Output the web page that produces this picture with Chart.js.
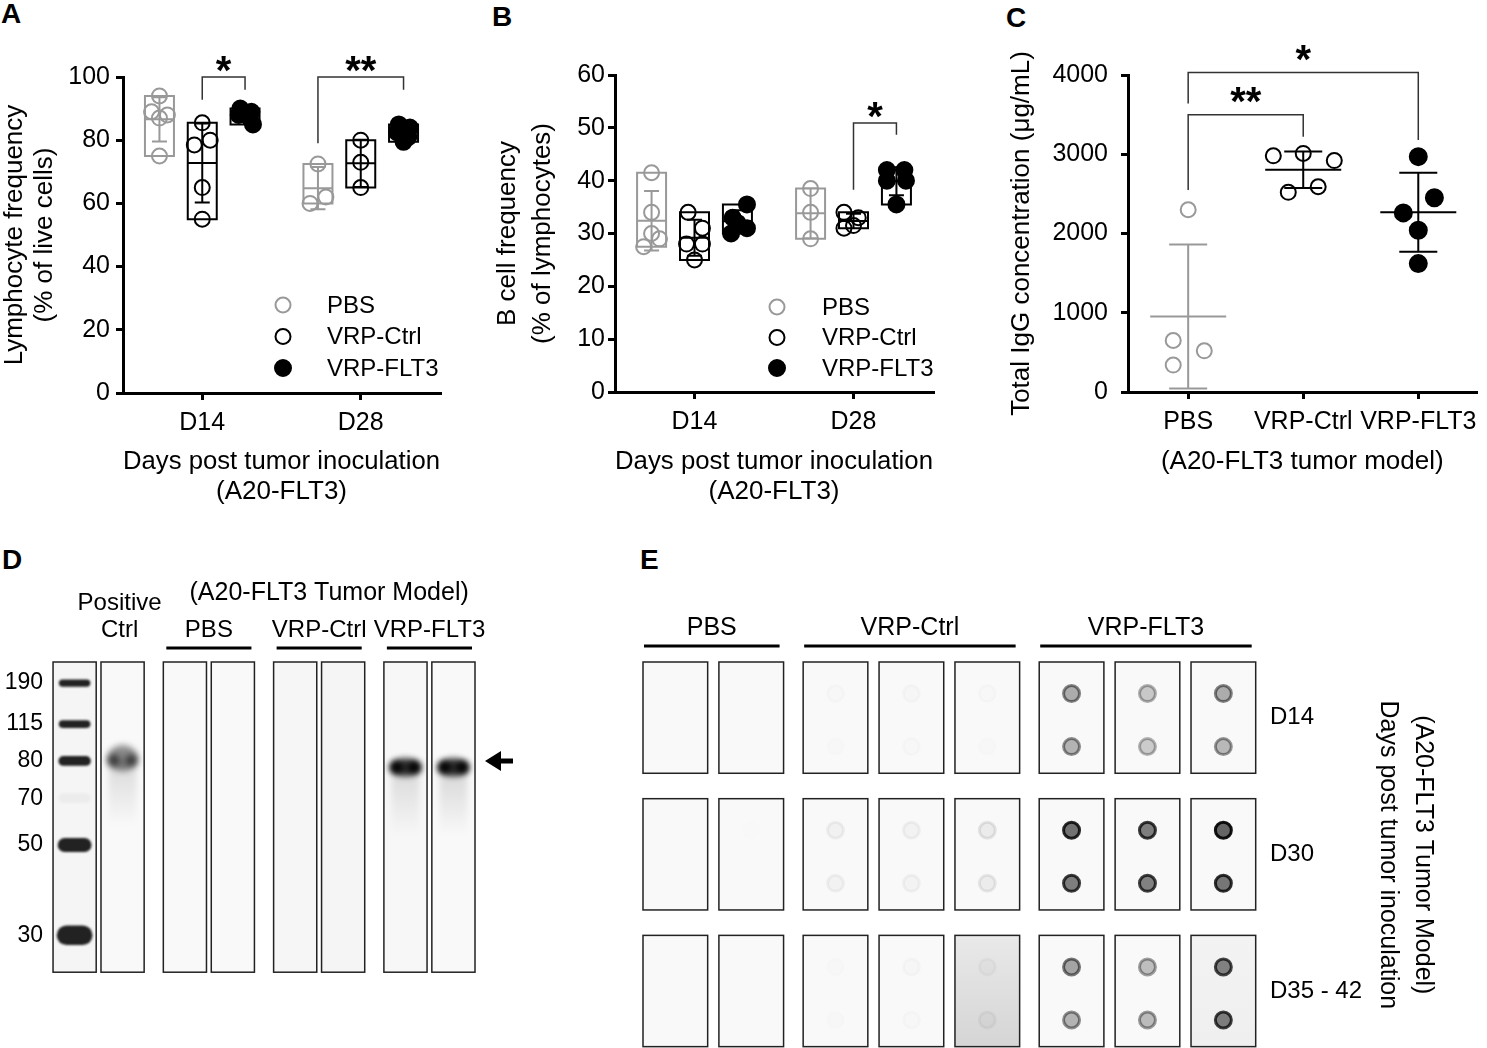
<!DOCTYPE html>
<html>
<head>
<meta charset="utf-8">
<title>A20-FLT3 tumor model</title>
<script src="https://cdn.jsdelivr.net/npm/chart.js@4.4.1/dist/chart.umd.min.js"></script>
<style>
  html, body { margin: 0; padding: 0; background: #fff; }
  body { position: relative; width: 1487px; height: 1048px; overflow: hidden;
         font-family: Arial, "Liberation Sans", sans-serif; }
  .panel { position: absolute; }
  .tag { position: absolute; font-weight: bold; font-size: 28px; line-height: 28px; }
</style>
</head>
<body>
<div class="tag" style="left:1px;top:0px">A</div>
<div class="tag" style="left:492px;top:3px">B</div>
<div class="tag" style="left:1006px;top:4px">C</div>
<div class="tag" style="left:2px;top:546px">D</div>
<div class="tag" style="left:640px;top:546px">E</div>

<div class="panel" style="left:0;top:0;width:490px;height:510px"><canvas id="chartA"></canvas></div>
<div class="panel" style="left:490px;top:0;width:490px;height:510px"><canvas id="chartB"></canvas></div>
<div class="panel" style="left:990px;top:0;width:497px;height:510px"><canvas id="chartC"></canvas></div>
<div class="panel" style="left:0;top:540px;width:560px;height:457px"><canvas id="chartD"></canvas></div>
<div class="panel" style="left:630px;top:600px;width:857px;height:476px"><canvas id="chartE"></canvas></div>

<script>
// ---------- data ----------
const days = ['D14', 'D28'];
const groupNames = ['PBS', 'VRP-Ctrl', 'VRP-FLT3'];

// A: lymphocyte frequency (% of live cells), one list per day
const lymphPBS  = [[94, 89, 88, 87, 75], [72.5, 62, 60]];
const lymphCtrl = [[85.5, 80, 78.5, 65, 55], [80, 73, 65]];
const lymphFLT3 = [[90, 89, 88, 87, 85], [85, 84, 82.5, 81, 79.5]];
const yTicksA = [0, 20, 40, 60, 80, 100];

// B: B cell frequency (% of lymphocytes)
const bcellPBS  = [[41.5, 34, 30, 29, 27.5], [38.5, 34, 29]];
const bcellCtrl = [[34, 31, 28, 28, 25], [34, 33, 31.5, 31]];
const bcellFLT3 = [[35.5, 33, 32, 31, 30], [42, 42, 40, 40, 35.5]];
const yTicksB = [0, 10, 20, 30, 40, 50, 60];

// C: total IgG concentration (ug/mL)
const igPBS  = [2300, 650, 520, 340];
const igCtrl = [2980, 3010, 2920, 2520, 2590];
const igFLT3 = [2970, 2450, 2260, 2040, 1620];
const yTicksC = [0, 1000, 2000, 3000, 4000];

// D: western blot, kDa marker and relative migration (0 = top of membrane)
const ladderMW  = [190, 115, 80, 70, 50, 30];
const ladderMig = [0.068, 0.2, 0.319, 0.439, 0.59, 0.881];
const ladderAmt = [1.05, 1.1, 1.4, 1.4, 2, 2.8];
const ladderInk = [0.95, 0.95, 0.95, 0.04, 0.95, 0.95];
const blotLanes = ['Marker', 'Positive Ctrl', 'PBS', 'PBS', 'VRP-Ctrl', 'VRP-Ctrl', 'VRP-FLT3', 'VRP-FLT3'];
const bandMig   = [0, 0.31, 0, 0, 0, 0, 0.339, 0.339];
const bandInk   = [0, 0.55, 0, 0, 0, 0, 1, 1];
const smearInk  = [0, 0.13, 0, 0, 0, 0, 0.12, 0.14];
const laneShade = [0.05, 0.02, 0.02, 0.02, 0.04, 0.05, 0.03, 0.02];

// E: dot blot signal [top spot, bottom spot] per membrane
const dotRows = ['D14', 'D30', 'D35 - 42'];
const dotLanes = ['PBS', 'PBS', 'VRP-Ctrl', 'VRP-Ctrl', 'VRP-Ctrl', 'VRP-FLT3', 'VRP-FLT3', 'VRP-FLT3'];
const dotD14 = [[0, 0], [0, 0], [.015, .01], [.02, .015], [.015, .01], [.5, .45], [.32, .3], [.5, .42]];
const dotD30 = [[0, 0], [.005, 0], [.05, .045], [.045, .04], [.09, .08], [.88, .8], [.8, .78], [.97, .85]];
const dotD35 = [[0, 0], [0, 0], [.01, .01], [.02, .015], [.03, .04], [.55, .45], [.38, .4], [.75, .78]];
const hazeD35 = [0, 0, 0, 0, 0.14, 0, 0, 0.03];

// ---------- setup ----------
const FONT = 'Arial, "Liberation Sans", sans-serif';
Chart.defaults.font.family = FONT;
Chart.defaults.font.size = 25;
Chart.defaults.color = '#000';
Chart.defaults.animation = false;
Chart.defaults.plugins.legend.display = false;
Chart.defaults.plugins.tooltip.enabled = false;

const OFF = [-0.27, 0, 0.27];
const GRAY = '#999';

function stats(vals) {
  const n = vals.length;
  const mean = vals.reduce((a, b) => a + b, 0) / n;
  const sd = Math.sqrt(vals.reduce((a, b) => a + (b - mean) ** 2, 0) / (n - 1));
  return { min: Math.min(...vals), max: Math.max(...vals), mean, sd };
}

function ink(d) {
  const v = Math.round(248 - 232 * d);
  return `rgb(${v},${v},${v})`;
}

// summary marks: floating min-max box (A, B) or mean +- SD only (C)
function summaryPlugin(cfg) {
  return {
    id: 'summary',
    beforeDatasetsDraw(chart) {
      const { ctx, scales: { x, y } } = chart;
      const st = cfg.summary;
      ctx.save();
      ctx.lineWidth = st.lineWidth;
      cfg.sets.forEach((s, g) => {
        ctx.strokeStyle = s.color;
        s.values.forEach((vals, c) => {
          const m = stats(vals);
          const cx = x.getPixelForValue((s.base || 0) + c + cfg.offsets[g]);
          const yMean = y.getPixelForValue(m.mean);
          const yHi = y.getPixelForValue(m.mean + m.sd);
          const yLo = y.getPixelForValue(m.mean - m.sd);
          ctx.beginPath();
          if (st.box) {
            const yTop = y.getPixelForValue(m.max), yBot = y.getPixelForValue(m.min);
            ctx.rect(cx - st.boxHalf, yTop, st.boxHalf * 2, yBot - yTop);
          }
          ctx.moveTo(cx - st.meanHalf, yMean); ctx.lineTo(cx + st.meanHalf, yMean);
          ctx.moveTo(cx, yHi); ctx.lineTo(cx, yLo);
          ctx.moveTo(cx - st.capHalf, yHi); ctx.lineTo(cx + st.capHalf, yHi);
          ctx.moveTo(cx - st.capHalf, yLo); ctx.lineTo(cx + st.capHalf, yLo);
          ctx.stroke();
        });
      });
      ctx.restore();
    }
  };
}

function bracketPlugin(cfg) {
  return {
    id: 'brackets',
    afterDatasetsDraw(chart) {
      const { ctx, scales: { x, y } } = chart;
      ctx.save();
      ctx.strokeStyle = '#333';
      ctx.lineWidth = 1.5;
      ctx.fillStyle = '#000';
      ctx.font = 'bold 40px ' + FONT;
      ctx.textAlign = 'center';
      ctx.textBaseline = 'alphabetic';
      cfg.brackets.forEach(b => {
        const x1 = x.getPixelForValue(b.x1), x2 = x.getPixelForValue(b.x2);
        const yt = y.getPixelForValue(b.top);
        ctx.beginPath();
        ctx.moveTo(x1, y.getPixelForValue(b.y1));
        ctx.lineTo(x1, yt);
        ctx.lineTo(x2, yt);
        ctx.lineTo(x2, y.getPixelForValue(b.y2));
        ctx.stroke();
        const mt = ctx.measureText(b.label);
        const cy = yt - cfg.starGap;
        ctx.fillText(b.label, (x1 + x2) / 2, cy + (mt.actualBoundingBoxAscent - mt.actualBoundingBoxDescent) / 2);
      });
      ctx.restore();
    }
  };
}

function legendPlugin(cfg) {
  return {
    id: 'innerLegend',
    afterDatasetsDraw(chart) {
      if (!cfg.legend) return;
      const { ctx, chartArea } = chart;
      const L = cfg.legend;
      ctx.save();
      ctx.font = '24px ' + FONT;
      ctx.textBaseline = 'middle';
      ctx.textAlign = 'left';
      cfg.sets.forEach((s, i) => {
        const mx = chartArea.left + L.dx, my = chartArea.top + L.dy + i * L.gap;
        ctx.beginPath();
        ctx.arc(mx, my, s.radius, 0, Math.PI * 2);
        ctx.fillStyle = s.fill;
        ctx.fill();
        ctx.lineWidth = 2;
        ctx.strokeStyle = s.color;
        ctx.stroke();
        ctx.fillStyle = '#000';
        ctx.fillText(s.label, mx + L.textDx, my + 1);
      });
      ctx.restore();
    }
  };
}

function dotPlot(id, cfg) {
  const H = cfg.height, area = cfg.area;
  const axisGrid = { drawOnChartArea: false, drawTicks: true, tickLength: 7, color: '#000', lineWidth: 3 };
  const datasets = cfg.sets.map((s, g) => ({
    label: s.label,
    data: s.values.flatMap((vals, c) => vals.map((v, k) => ({
      x: (s.base || 0) + c + cfg.offsets[g] + s.nudge[c][k], y: v
    }))),
    pointRadius: s.radius,
    pointBorderWidth: 2,
    pointBorderColor: s.color,
    pointBackgroundColor: s.fill
  }));
  return new Chart(document.getElementById(id), {
    type: 'scatter',
    data: { datasets },
    options: {
      responsive: true,
      maintainAspectRatio: false,
      layout: { padding: { left: 0, top: area.top, right: cfg.width - area.right, bottom: 0 } },
      scales: {
        x: {
          type: 'linear',
          min: cfg.xMin,
          max: cfg.xMax,
          afterBuildTicks: sc => { sc.ticks = cfg.cats.map((_, i) => ({ value: i })); },
          afterFit: sc => { sc.height = H - area.bottom; },
          ticks: { callback: v => cfg.cats[v], padding: 8, autoSkip: false, maxRotation: 0, color: '#000' },
          grid: axisGrid,
          border: { color: '#000', width: 3 },
          title: {
            display: true, text: cfg.xTitle, color: '#000',
            font: { size: 26, lineHeight: cfg.xTitleLH },
            padding: { top: 0, bottom: cfg.xTitlePad }
          }
        },
        y: {
          min: cfg.yTicks[0],
          max: cfg.yTicks[cfg.yTicks.length - 1],
          afterBuildTicks: sc => { sc.ticks = cfg.yTicks.map(v => ({ value: v })); },
          afterFit: sc => { sc.width = area.left; },
          ticks: { callback: v => String(v), padding: cfg.yTickPad, color: '#000' },
          grid: axisGrid,
          border: { color: '#000', width: 3 },
          title: {
            display: true, text: cfg.yTitle, color: '#000',
            font: { size: 26, lineHeight: cfg.yTitleLH },
            padding: { top: cfg.yTitlePad, bottom: 0 }
          }
        }
      }
    },
    plugins: [summaryPlugin(cfg), bracketPlugin(cfg), legendPlugin(cfg)]
  });
}

// ---------- panel A ----------
dotPlot('chartA', {
  width: 490, height: 510,
  area: { left: 123, top: 77, right: 440, bottom: 393 },
  cats: days, xMin: -0.5, xMax: 1.5, offsets: OFF,
  yTicks: yTicksA, yTickPad: 6,
  yTitle: ['Lymphocyte frequency', '(% of live cells)'], yTitleLH: 1.154, yTitlePad: 0,
  xTitle: ['Days post tumor inoculation', '(A20-FLT3)'], xTitleLH: 1.154, xTitlePad: 3,
  summary: { box: true, boxHalf: 14.5, meanHalf: 14.5, capHalf: 7.5, lineWidth: 2 },
  sets: [
    { label: groupNames[0], values: lymphPBS, color: GRAY, fill: 'rgba(0,0,0,0)', radius: 7.5,
      nudge: [[0, -0.05, 0.05, 0, 0], [0, 0.05, -0.05]] },
    { label: groupNames[1], values: lymphCtrl, color: '#000', fill: 'rgba(0,0,0,0)', radius: 7.5,
      nudge: [[0, 0.05, -0.05, 0, 0], [0, 0, 0]] },
    { label: groupNames[2], values: lymphFLT3, color: '#000', fill: '#000', radius: 8,
      nudge: [[-0.03, 0.04, -0.04, 0.03, 0.05], [-0.03, 0.04, -0.04, 0.03, 0]] }
  ],
  legend: { dx: 160, dy: 228, gap: 31.5, textDx: 44 },
  starGap: 13,
  brackets: [
    { x1: 0 + OFF[1], x2: 0 + OFF[2], top: 100, y1: 92.8, y2: 96, label: '*' },
    { x1: 1 + OFF[0], x2: 1 + OFF[2], top: 100, y1: 79, y2: 96, label: '**' }
  ]
});

// ---------- panel B ----------
dotPlot('chartB', {
  width: 490, height: 510,
  area: { left: 125, top: 75, right: 443, bottom: 392 },
  cats: days, xMin: -0.5, xMax: 1.5, offsets: OFF,
  yTicks: yTicksB, yTickPad: 3,
  yTitle: ['B cell frequency', '(% of lymphocytes)'], yTitleLH: 1.346, yTitlePad: 0,
  xTitle: ['Days post tumor inoculation', '(A20-FLT3)'], xTitleLH: 1.154, xTitlePad: 3,
  summary: { box: true, boxHalf: 14.5, meanHalf: 14.5, capHalf: 7.5, lineWidth: 2 },
  sets: [
    { label: groupNames[0], values: bcellPBS, color: GRAY, fill: 'rgba(0,0,0,0)', radius: 7.5,
      nudge: [[0, 0, 0, 0.05, -0.05], [0, 0, 0]] },
    { label: groupNames[1], values: bcellCtrl, color: '#000', fill: 'rgba(0,0,0,0)', radius: 7.5,
      nudge: [[-0.04, 0.05, -0.05, 0.05, 0], [-0.06, 0.03, 0, -0.06]] },
    { label: groupNames[2], values: bcellFLT3, color: '#000', fill: '#000', radius: 8,
      nudge: [[0.06, -0.03, 0, 0.06, -0.04], [-0.06, 0.05, -0.06, 0.06, 0]] }
  ],
  legend: { dx: 162, dy: 232, gap: 30.5, textDx: 45 },
  starGap: 13,
  brackets: [
    { x1: 1 + OFF[1], x2: 1 + OFF[2], top: 50.9, y1: 38.3, y2: 48.7, label: '*' }
  ]
});

// ---------- panel C ----------
dotPlot('chartC', {
  width: 497, height: 510,
  area: { left: 138, top: 75, right: 497, bottom: 392 },
  cats: groupNames, xMin: -0.523, xMax: 2.506, offsets: [0, 0, 0],
  yTicks: yTicksC, yTickPad: 13,
  yTitle: 'Total IgG concentration (\u03bcg/mL)', yTitleLH: 1.2, yTitlePad: 16.4,
  xTitle: '(A20-FLT3 tumor model)', xTitleLH: 1.2, xTitlePad: 32.4,
  summary: { box: false, meanHalf: 38, capHalf: 19, lineWidth: 2 },
  sets: [
    { label: groupNames[0], values: [igPBS], base: 0, color: GRAY, fill: 'rgba(0,0,0,0)', radius: 7.5,
      nudge: [[0, -0.13, 0.14, -0.13]] },
    { label: groupNames[1], values: [igCtrl], base: 1, color: '#000', fill: 'rgba(0,0,0,0)', radius: 7.5,
      nudge: [[-0.26, 0, 0.27, -0.13, 0.13]] },
    { label: groupNames[2], values: [igFLT3], base: 2, color: '#000', fill: '#000', radius: 8.5,
      nudge: [[0, 0.14, -0.13, 0, 0]] }
  ],
  starGap: 20,
  brackets: [
    { x1: 0, x2: 1, top: 3500, y1: 2550, y2: 3220, label: '**' },
    { x1: 0, x2: 2, top: 4030, y1: 3640, y2: 3180, label: '*' }
  ]
});

// ---------- panel D: western blot ----------
const laneGroup = [0, 0, 1, 1, 2, 2, 3, 3];
const laneX = blotLanes.map((_, i) => i + 0.3 * laneGroup[i]);

const blotPlugin = {
  id: 'blot',
  afterDraw(chart) {
    const { ctx, chartArea: a, scales: { x, y } } = chart;
    const half = x.getPixelForValue(0.45) - x.getPixelForValue(0);
    ctx.save();
    // membranes
    laneX.forEach((lx, i) => {
      const cx = x.getPixelForValue(lx);
      const v = Math.round(251 - 120 * laneShade[i]);
      ctx.fillStyle = `rgb(${v},${v},${v})`;
      ctx.fillRect(cx - half, a.top, half * 2, a.bottom - a.top);
    });
    // marker bands
    const mx = x.getPixelForValue(laneX[0]);
    ladderMig.forEach((m, k) => {
      const h = 7 * ladderAmt[k], w = 29 + 2.4 * ladderAmt[k];
      const yy = y.getPixelForValue(m);
      ctx.filter = 'blur(0.8px)';
      ctx.fillStyle = `rgba(22,22,22,${ladderInk[k]})`;
      ctx.beginPath();
      ctx.roundRect(mx - w / 2, yy - h / 2, w, h, h / 2);
      ctx.fill();
    });
    // sample bands with a smear underneath
    laneX.forEach((lx, i) => {
      if (!bandInk[i]) return;
      const cx = x.getPixelForValue(lx);
      const yb = y.getPixelForValue(bandMig[i]);
      const ys = y.getPixelForValue(bandMig[i] + 0.22);
      ctx.filter = 'blur(3px)';
      const gr = ctx.createLinearGradient(0, yb, 0, ys);
      gr.addColorStop(0, `rgba(0,0,0,${smearInk[i]})`);
      gr.addColorStop(1, 'rgba(0,0,0,0)');
      ctx.fillStyle = gr;
      ctx.fillRect(cx - 14, yb, 28, ys - yb);
      const tall = bandInk[i] < 0.8 ? 13 : 9;
      ctx.fillStyle = `rgba(10,10,10,${bandInk[i] * 0.85})`;
      ctx.beginPath();
      ctx.ellipse(cx, yb, 15, tall, 0, 0, Math.PI * 2);
      ctx.fill();
      ctx.fillStyle = `rgba(0,0,0,${bandInk[i]})`;
      [-9, 9].forEach(dx => {
        ctx.beginPath();
        ctx.ellipse(cx + dx, yb + (tall - 9) / 2, 6, 6, 0, 0, Math.PI * 2);
        ctx.fill();
      });
    });
    ctx.filter = 'none';
    // membrane outlines
    ctx.strokeStyle = '#222';
    ctx.lineWidth = 1.5;
    laneX.forEach(lx => {
      const cx = x.getPixelForValue(lx);
      ctx.strokeRect(cx - half, a.top, half * 2, a.bottom - a.top);
    });
    // headers
    ctx.fillStyle = '#000';
    ctx.textAlign = 'center';
    ctx.textBaseline = 'middle';
    ctx.font = '24px ' + FONT;
    const pc = x.getPixelForValue(laneX[1]);
    ctx.fillText('Positive', pc - 3, a.top - 59);
    ctx.fillText('Ctrl', pc - 3, a.top - 32);
    groupNames.forEach(name => {
      const idx = blotLanes.map((n, i) => n === name ? i : -1).filter(i => i >= 0);
      const l = x.getPixelForValue(laneX[idx[0]]) - half + 3;
      const r = x.getPixelForValue(laneX[idx[idx.length - 1]]) + half - 3;
      ctx.fillText(name, (l + r) / 2, a.top - 32);
      ctx.fillRect(l, a.top - 15.5, r - l, 3);
    });
    ctx.font = '25px ' + FONT;
    const firstL = x.getPixelForValue(laneX[2]) - half, lastR = x.getPixelForValue(laneX[7]) + half;
    ctx.fillText('(A20-FLT3 Tumor Model)', (firstL + lastR) / 2 + 10, a.top - 69);
    // arrow at the 80 kDa marker
    const ay = y.getPixelForValue(ladderMig[ladderMW.indexOf(80)]);
    const ax = a.right + 10;
    ctx.beginPath();
    ctx.moveTo(ax, ay);
    ctx.lineTo(ax + 16, ay - 10);
    ctx.lineTo(ax + 16, ay - 2.5);
    ctx.lineTo(ax + 28, ay - 2.5);
    ctx.lineTo(ax + 28, ay + 2.5);
    ctx.lineTo(ax + 16, ay + 2.5);
    ctx.lineTo(ax + 16, ay + 10);
    ctx.closePath();
    ctx.fill();
    ctx.restore();
  }
};

new Chart(document.getElementById('chartD'), {
  type: 'scatter',
  data: { datasets: [] },
  options: {
    responsive: true,
    maintainAspectRatio: false,
    layout: { padding: { left: 0, top: 122, right: 85, bottom: 0 } },
    scales: {
      x: { type: 'linear', display: false, min: -0.43, max: 8.35 },
      y: {
        type: 'linear', reverse: true, min: 0, max: 1,
        afterBuildTicks: sc => { sc.ticks = ladderMig.map(v => ({ value: v })); },
        afterFit: sc => { sc.width = 54; },
        ticks: { callback: v => String(ladderMW[ladderMig.indexOf(v)]), padding: 11, font: { size: 23 }, color: '#000' },
        grid: { display: false, drawTicks: false },
        border: { display: false }
      }
    }
  },
  plugins: [blotPlugin]
});

// ---------- panel E: dot blot ----------
const dotGroupIdx = dotLanes.map(n => groupNames.indexOf(n));
const memX = dotLanes.map((_, i) => i + 0.11 * dotGroupIdx[i]);
const spotDy = [-0.176, 0.212];
const dotSignal = [dotD14, dotD30, dotD35];

const membranePlugin = {
  id: 'membranes',
  beforeDatasetsDraw(chart) {
    const { ctx, scales: { x, y } } = chart;
    const hw = x.getPixelForValue(0.426) - x.getPixelForValue(0);
    const hh = y.getPixelForValue(0.407) - y.getPixelForValue(0);
    ctx.save();
    dotRows.forEach((_, r) => {
      const cy = y.getPixelForValue(r);
      memX.forEach((mx, m) => {
        const cx = x.getPixelForValue(mx);
        const haze = r === 2 ? hazeD35[m] : 0;
        if (haze) {
          const gr = ctx.createLinearGradient(0, cy - hh, 0, cy + hh);
          gr.addColorStop(0, ink(0.01 + haze * 0.4));
          gr.addColorStop(1, ink(0.01 + haze));
          ctx.fillStyle = gr;
        } else {
          ctx.fillStyle = '#f9f9f9';
        }
        ctx.fillRect(cx - hw, cy - hh, hw * 2, hh * 2);
        ctx.strokeStyle = '#222';
        ctx.lineWidth = 1.5;
        ctx.strokeRect(cx - hw, cy - hh, hw * 2, hh * 2);
      });
    });
    // group headers
    ctx.fillStyle = '#000';
    ctx.font = '25px ' + FONT;
    ctx.textAlign = 'center';
    ctx.textBaseline = 'middle';
    const top = y.getPixelForValue(-0.407);
    groupNames.forEach(name => {
      const idx = dotLanes.map((n, i) => n === name ? i : -1).filter(i => i >= 0);
      const l = x.getPixelForValue(memX[idx[0]]) - hw + 1;
      const rr = x.getPixelForValue(memX[idx[idx.length - 1]]) + hw - 4;
      ctx.fillText(name, (l + rr) / 2, top - 34);
      ctx.fillRect(l, top - 17.5, rr - l, 3);
    });
    ctx.restore();
  },
  beforeDatasetDraw(chart) {
    chart.ctx.save();
    chart.ctx.filter = 'blur(0.7px)';
  },
  afterDatasetDraw(chart) {
    chart.ctx.restore();
  }
};

new Chart(document.getElementById('chartE'), {
  type: 'scatter',
  data: {
    datasets: dotRows.map((row, r) => ({
      label: row,
      data: dotSignal[r].flatMap((spots, m) => spots.map((s, k) => ({ x: memX[m], y: r + spotDy[k], s }))),
      pointRadius: 8,
      pointBorderWidth: 3,
      pointBackgroundColor: c => `rgba(0,0,0,${(c.raw.s * 0.62).toFixed(3)})`,
      pointBorderColor: c => `rgba(0,0,0,${Math.min(0.92, c.raw.s * 0.95).toFixed(3)})`
    }))
  },
  options: {
    responsive: true,
    maintainAspectRatio: false,
    layout: { padding: { left: 13, top: 62, right: 0, bottom: 0 } },
    scales: {
      x: { type: 'linear', display: false, min: -0.426, max: 7.65 },
      y: {
        type: 'linear', position: 'right', reverse: true, min: -0.407, max: 2.414,
        afterBuildTicks: sc => { sc.ticks = dotRows.map((_, i) => ({ value: i })); },
        afterFit: sc => { sc.width = 231; },
        ticks: { callback: v => dotRows[v], padding: 14, font: { size: 24 }, color: '#000' },
        grid: { display: false, drawTicks: false },
        border: { display: false },
        title: {
          display: true,
          text: ['(A20-FLT3 Tumor Model)', 'Days post tumor inoculation'],
          color: '#000',
          font: { size: 25, lineHeight: 1.4 },
          padding: { top: 46.5, bottom: 0 }
        }
      }
    }
  },
  plugins: [membranePlugin]
});
</script>
</body>
</html>
